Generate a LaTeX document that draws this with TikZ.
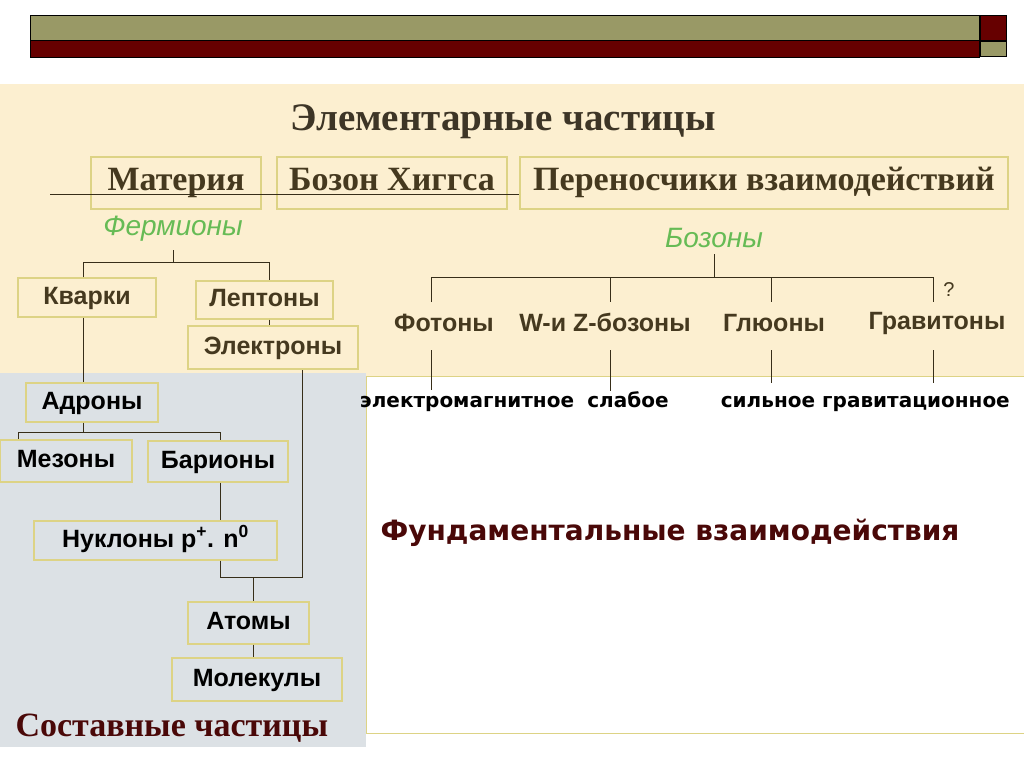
\documentclass[tikz,border=0pt]{standalone}
\usepackage{fontspec}
\setmainfont{Liberation Serif}
\setsansfont{Liberation Sans}
\newfontfamily\tahomalike{DejaVu Sans}
\definecolor{olive}{HTML}{999966}
\definecolor{dred}{HTML}{660000}
\definecolor{cream}{HTML}{FCEFD0}
\definecolor{grayb}{HTML}{DCE1E5}
\definecolor{khaki}{HTML}{DDD385}
\definecolor{brownt}{HTML}{45391F}
\definecolor{greent}{HTML}{66BB55}
\definecolor{redt}{HTML}{4A0808}
\definecolor{titlet}{HTML}{3D3526}
\begin{document}
\begin{tikzpicture}[x=1pt,y=-1pt,
  box/.style={draw=khaki,line width=1.2pt,inner sep=0pt},
  sbox/.style={box,font=\sffamily\bfseries\fontsize{25}{28}\selectfont,text=brownt,text height=18pt,text depth=5pt},
  kbox/.style={box,font=\sffamily\bfseries\fontsize{25}{28}\selectfont,text=black,text height=18pt,text depth=5pt},
  tbox/.style={box,font=\rmfamily\bfseries\fontsize{34}{36}\selectfont,text=brownt,text height=22.5pt,text depth=7pt},
  conn/.style={draw=brownt!80!black,line width=1pt},
  gtext/.style={font=\sffamily\itshape\fontsize{28}{30}\selectfont,text=greent},
  blab/.style={font=\sffamily\bfseries\fontsize{25}{28}\selectfont,text=brownt,text height=18pt,text depth=5pt},
  ilab/.style={font=\tahomalike\bfseries\fontsize{20}{22}\selectfont,text=black,text height=14.5pt,text depth=4pt}]
\useasboundingbox (0,0) rectangle (1024,767);
\fill[white] (0,0) rectangle (1024,767);
% header bars
\draw[fill=olive,line width=0.8pt] (30,15) rectangle (979,40);
\draw[fill=dred,line width=0.8pt] (30,40) rectangle (979,57);
\draw[fill=dred,line width=0.8pt] (980,15) rectangle (1006,40);
\draw[fill=olive,line width=0.8pt] (980,41) rectangle (1006,56);
% backgrounds
\fill[cream] (0,84) rectangle (1024,376);
\fill[grayb] (0,373) rectangle (366,747);
\draw[khaki,fill=white,line width=1pt] (1030,376) -- (366,376) -- (366,733) -- (1030,733);
% title
\node[font=\rmfamily\bfseries\fontsize{39}{42}\selectfont,text=titlet] (title) at (503,122) {Элементарные частицы};
\node[tbox,minimum width=170,minimum height=52] (mat) at (176,183) {Материя};
\node[tbox,minimum width=230,minimum height=52] (hig) at (392,183) {Бозон Хиггса};
\node[tbox,minimum width=488,minimum height=52] (per) at (764,183) {Переносчики взаимодействий};
\draw[conn] (50,195) -- (per.west |- 0,195);
% fermions
\node[gtext] (ferm) at (173,229) {Фермионы};
\node[sbox,minimum width=138,minimum height=39] (kv) at (87,297.5) {Кварки};
\node[sbox,minimum width=137,minimum height=38] (lep) at (264.5,300) {Лептоны};
\node[sbox,minimum width=170,minimum height=43] (el) at (273,347.5) {Электроны};
\draw[conn] (173,250) -- (173,262);
\draw[conn] (kv.north -| 83,0) -- (83,262) -- (269,262) -- (lep.north -| 269,0);
\draw[conn] (lep.south -| 269,0) -- (el.north -| 269,0);
% composite
\node[kbox,minimum width=132,minimum height=39] (adr) at (92,402.5) {Адроны};
\node[kbox,minimum width=132,minimum height=42] (mez) at (66,461) {Мезоны};
\node[kbox,minimum width=140,minimum height=41] (bar) at (218,461.5) {Барионы};
\node[kbox,minimum width=243,minimum height=39] (nuk) at (155.5,540.5) {Нуклоны p\textsuperscript{+}. n\textsuperscript{0}};
\node[kbox,minimum width=121,minimum height=42] (at) at (248.5,623) {Атомы};
\node[kbox,minimum width=170,minimum height=43] (mol) at (257,679.5) {Молекулы};
\draw[conn] (kv.south -| 83,0) -- (adr.north -| 83,0);
\draw[conn] (adr.south -| 83,0) -- (83,432) -- (18,432) -- (mez.north -| 18,0);
\draw[conn] (83,432) -- (220,432) -- (bar.north -| 220,0);
\draw[conn] (bar.south -| 220,0) -- (nuk.north -| 220,0);
\draw[conn] (nuk.south -| 220,0) -- (220,577) -- (302,577) -- (el.south -| 302,0);
\draw[conn] (253,577) -- (at.north -| 253,0);
\draw[conn] (at.south -| 253,0) -- (mol.north -| 253,0);
\node[font=\rmfamily\bfseries\fontsize{34}{36}\selectfont,text=redt,anchor=west] (sost) at (12,728) {Составные частицы};
% bosons
\node[gtext] (boz) at (714,238) {Бозоны};
\node[blab] (fot) at (444,325) {Фотоны};
\node[blab] (wz) at (605,325) {W-и Z-бозоны};
\node[blab] (glu) at (774,325) {Глюоны};
\node[blab] (gra) at (937,323) {Гравитоны};
\node[font=\sffamily\fontsize{20}{22}\selectfont,text=brownt] (q) at (949,290) {?};
\draw[conn] (714,254) -- (714,277);
\draw[conn] (431,302) -- (431,277) -- (933,277) -- (933,302);
\draw[conn] (610,277) -- (610,302);
\draw[conn] (771,277) -- (771,302);
\node[ilab] (em) at (467,402) {электромагнитное};
\node[ilab] (sl) at (628,402) {слабое};
\node[ilab] (si) at (768,402) {сильное};
\node[ilab] (gv) at (916,402) {гравитационное};
\draw[conn] (431,350) -- (431,390);
\draw[conn] (610,350) -- (610,391);
\draw[conn] (771,350) -- (771,383);
\draw[conn] (933,350) -- (933,383);
\node[font=\tahomalike\bfseries\fontsize{28}{30}\selectfont,text=redt] (fund) at (670,533) {Фундаментальные взаимодействия};
\end{tikzpicture}
\end{document}
